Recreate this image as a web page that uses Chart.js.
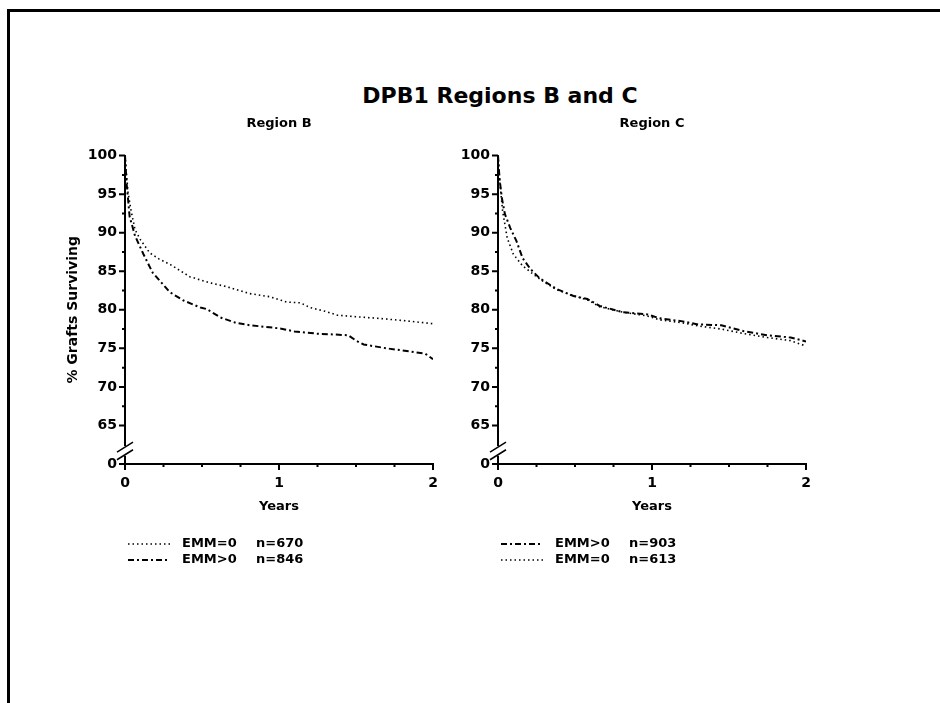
<!DOCTYPE html>
<html>
<head>
<meta charset="utf-8">
<script src="https://cdn.jsdelivr.net/npm/chart.js@4.4.1/dist/chart.umd.min.js"></script>
<style>
  body { margin: 0; background: #fff; }
  #page { position: relative; width: 940px; height: 703px; overflow: hidden; }
  #frame { position: absolute; left: 7px; top: 9px; right: -5px; bottom: -5px;
           border-top: 3px solid #000; border-left: 3px solid #000; }
  #mainTitle { position: absolute; left: 30px; width: 940px; top: 83px; text-align: center;
               font: bold 22px "DejaVu Sans", sans-serif; color: #000; }
  canvas { position: absolute; left: 0; top: 0; }
</style>
</head>
<body>
<div id="page">
  <div id="frame"></div>
  <div id="mainTitle">DPB1 Regions B and C</div>
  <canvas id="chartB" width="940" height="703"></canvas>
  <canvas id="chartC" width="940" height="703"></canvas>
</div>
<script>
// axis ticks (60 stands for the broken "0" at the bottom)
const yTicks = [60, 65, 70, 75, 80, 85, 90, 95, 100];
const yMinorTicks = [67.5, 72.5, 77.5, 82.5, 87.5, 92.5, 97.5];
const xTicks = [0, 1, 2];
const xMinorTicks = [0.25, 0.5, 0.75, 1.25, 1.5, 1.75];

// Region B
const bTimeEmm0 = [0, 0.01, 0.02, 0.04, 0.065, 0.1, 0.16, 0.22, 0.3, 0.42, 0.55, 0.66, 0.81, 0.94, 1.05, 1.14, 1.2, 1.3, 1.38, 1.5, 1.64, 1.81, 2.0];
const bEmm0 = [100, 97.5, 95.2, 92.8, 90.4, 89.1, 87.4, 86.6, 85.8, 84.3, 83.5, 83.0, 82.1, 81.7, 81.0, 80.9, 80.3, 79.8, 79.3, 79.1, 78.9, 78.6, 78.2];
const bTimeEmmPos = [0, 0.01, 0.03, 0.065, 0.12, 0.18, 0.29, 0.38, 0.49, 0.53, 0.62, 0.72, 0.81, 1.0, 1.1, 1.25, 1.45, 1.5, 1.55, 1.7, 1.85, 1.95, 2.0];
const bEmmPos = [100, 96.5, 92.1, 89.6, 87.2, 84.8, 82.3, 81.2, 80.3, 80.1, 79.0, 78.3, 78.0, 77.6, 77.2, 76.9, 76.7, 76.0, 75.5, 75.0, 74.6, 74.3, 73.6];

// Region C
const cTimeEmmPos = [0, 0.01, 0.025, 0.045, 0.08, 0.12, 0.16, 0.21, 0.27, 0.38, 0.49, 0.58, 0.66, 0.81, 0.97, 1.05, 1.2, 1.3, 1.45, 1.6, 1.75, 1.9, 2.0];
const cEmmPos = [100, 97.0, 94.5, 92.4, 90.6, 88.9, 86.7, 85.3, 84.1, 82.7, 81.8, 81.4, 80.5, 79.7, 79.4, 78.9, 78.5, 78.1, 78.0, 77.2, 76.7, 76.4, 75.9];
const cTimeEmm0 = [0, 0.01, 0.03, 0.06, 0.1, 0.16, 0.23, 0.3, 0.38, 0.49, 0.58, 0.66, 0.81, 0.97, 1.05, 1.2, 1.3, 1.45, 1.6, 1.75, 1.9, 2.0];
const cEmm0 = [100, 97.0, 92.8, 89.3, 87.2, 85.7, 84.6, 83.6, 82.6, 81.8, 81.3, 80.4, 79.7, 79.2, 78.7, 78.3, 77.9, 77.5, 76.9, 76.4, 76.0, 75.3];

const FONT = '"DejaVu Sans", sans-serif';
const DOTTED = [1.5, 3];
const DASHDOT = [6, 3, 2, 3];

const toPoints = (ts, vs) => ts.map((t, i) => ({ x: t, y: vs[i] }));

// tick marks, axis break and the two-column legend under each panel
const decorPlugin = {
  id: 'decor',
  afterDraw(chart) {
    const { ctx, chartArea } = chart;
    const xs = chart.scales.x, ys = chart.scales.y;
    ctx.save();
    ctx.strokeStyle = '#000';
    ctx.lineWidth = 2;
    ctx.beginPath();
    yTicks.forEach(v => {
      const py = ys.getPixelForValue(v);
      ctx.moveTo(chartArea.left, py); ctx.lineTo(chartArea.left - 6, py);
    });
    yMinorTicks.forEach(v => {
      const py = ys.getPixelForValue(v);
      ctx.moveTo(chartArea.left, py); ctx.lineTo(chartArea.left - 3, py);
    });
    xTicks.forEach(v => {
      const px = xs.getPixelForValue(v);
      ctx.moveTo(px, chartArea.bottom); ctx.lineTo(px, chartArea.bottom + 6);
    });
    xMinorTicks.forEach(v => {
      const px = xs.getPixelForValue(v);
      ctx.moveTo(px, chartArea.bottom); ctx.lineTo(px, chartArea.bottom + 3);
    });
    ctx.stroke();

    // axis break "//"
    const b1 = ys.getPixelForValue(62.2), b2 = ys.getPixelForValue(61.2);
    ctx.fillStyle = '#fff';
    ctx.fillRect(chartArea.left - 2, b1 - 1, 4, b2 - b1 + 2);
    ctx.lineWidth = 1.5;
    ctx.beginPath();
    ctx.moveTo(chartArea.left - 8, b1 + 5); ctx.lineTo(chartArea.left + 8, b1 - 5);
    ctx.moveTo(chartArea.left - 8, b2 + 5); ctx.lineTo(chartArea.left + 8, b2 - 5);
    ctx.stroke();

    // legend
    ctx.font = 'bold 13px ' + FONT;
    ctx.fillStyle = '#000';
    ctx.textBaseline = 'middle';
    chart.data.datasets.forEach((ds, i) => {
      const ly = chartArea.bottom + 80 + i * 16;
      ctx.lineWidth = ds.borderWidth;
      ctx.setLineDash(ds.borderDash);
      ctx.beginPath();
      ctx.moveTo(chartArea.left + 3, ly); ctx.lineTo(chartArea.left + 45, ly);
      ctx.stroke();
      ctx.setLineDash([]);
      ctx.fillText(ds.label, chartArea.left + 57, ly);
      ctx.fillText('n=' + ds.n, chartArea.left + 131, ly);
    });
    ctx.restore();
  }
};

function makeChart(canvasId, title, datasets, padLeft, showYTitle) {
  const yWidth = 60;
  return new Chart(document.getElementById(canvasId), {
    type: 'line',
    data: { datasets },
    options: {
      responsive: false,
      animation: false,
      devicePixelRatio: 1,
      layout: { padding: { left: padLeft - yWidth, right: 940 - padLeft - 308, top: 100, bottom: 189 } },
      elements: { point: { radius: 0 }, line: { tension: 0, borderCapStyle: 'butt' } },
      plugins: {
        legend: { display: false },
        tooltip: { enabled: false },
        title: {
          display: true, text: title, fullSize: false, color: '#000',
          font: { family: FONT, size: 13, weight: 'bold' },
          padding: { top: 16, bottom: 24 }
        }
      },
      scales: {
        x: {
          type: 'linear', min: 0, max: 2,
          afterFit: s => { s.height = 50; },
          border: { display: true, color: '#000', width: 2 },
          grid: { display: false, drawTicks: false },
          ticks: { stepSize: 1, padding: 11, color: '#000', font: { family: FONT, size: 14, weight: 'bold' } },
          title: { display: true, text: 'Years', color: '#000', padding: { top: 4, bottom: 0 },
                   font: { family: FONT, size: 13, weight: 'bold' } }
        },
        y: {
          type: 'linear', min: 60, max: 100,
          afterFit: s => { s.width = yWidth; },
          border: { display: true, color: '#000', width: 2 },
          grid: { display: false, drawTicks: false },
          afterBuildTicks: s => { s.ticks = yTicks.map(v => ({ value: v })); },
          ticks: {
            padding: 8, color: '#000', font: { family: FONT, size: 14, weight: 'bold' },
            callback: v => (v === 60 ? '0' : v)
          },
          title: { display: showYTitle, text: '% Grafts Surviving', color: '#000', padding: { top: 0, bottom: 2 },
                   font: { family: FONT, size: 14, weight: 'bold' } }
        }
      }
    },
    plugins: [decorPlugin]
  });
}

makeChart('chartB', 'Region B', [
  { label: 'EMM=0', n: 670, data: toPoints(bTimeEmm0, bEmm0), borderColor: '#000', borderWidth: 1.6, borderDash: DOTTED },
  { label: 'EMM>0', n: 846, data: toPoints(bTimeEmmPos, bEmmPos), borderColor: '#000', borderWidth: 2, borderDash: DASHDOT }
], 125, true);

makeChart('chartC', 'Region C', [
  { label: 'EMM>0', n: 903, data: toPoints(cTimeEmmPos, cEmmPos), borderColor: '#000', borderWidth: 2, borderDash: DASHDOT },
  { label: 'EMM=0', n: 613, data: toPoints(cTimeEmm0, cEmm0), borderColor: '#000', borderWidth: 1.6, borderDash: DOTTED }
], 498, false);
</script>
</body>
</html>
